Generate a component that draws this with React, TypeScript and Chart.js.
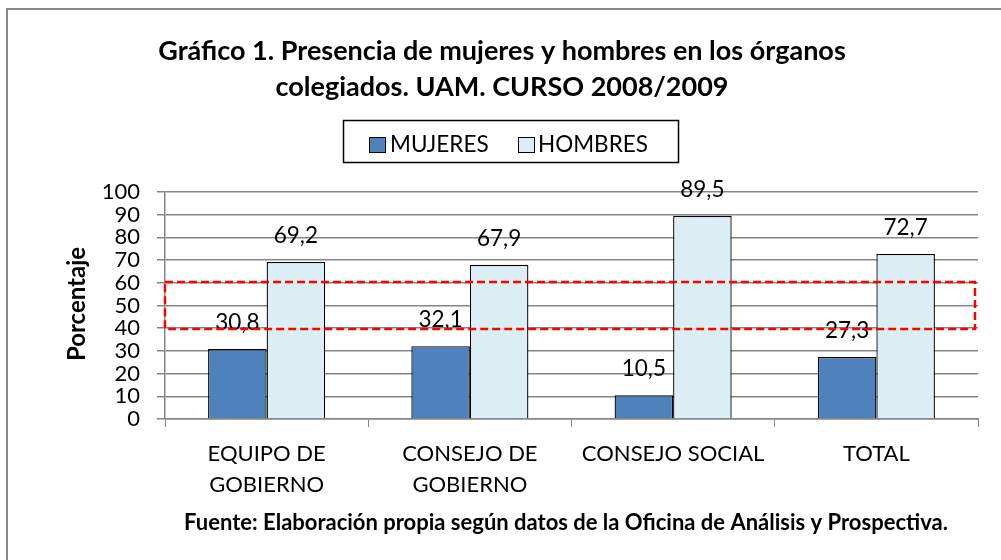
import React, { useEffect, useRef } from "react";
import { Chart, registerables } from "chart.js";

Chart.register(...registerables);

const TITLE_LINES = [
  "Gráfico 1. Presencia de mujeres y hombres en los órganos",
  "colegiados. UAM. CURSO 2008/2009",
];
const CATEGORIES = [["EQUIPO DE", "GOBIERNO"], ["CONSEJO DE", "GOBIERNO"], ["CONSEJO SOCIAL"], ["TOTAL"]];
const SERIES_NAMES = ["MUJERES", "HOMBRES"];
const MUJERES = [30.8, 32.1, 10.5, 27.3];
const HOMBRES = [69.2, 67.9, 89.5, 72.7];
const Y_MIN = 0;
const Y_MAX = 100;
const Y_STEP = 10;
const HIGHLIGHT_RANGE = [39.6, 60.4];
const Y_TITLE = "Porcentaje";
const SOURCE = "Fuente: Elaboración propia según datos de la Oficina de Análisis y Prospectiva.";

const COLORS = ["#4F81BD", "#DBEEF4"];
const FONT = "Lato";

const fmt = (v: number) => v.toFixed(1).replace(".", ",");

const decorPlugin = {
  id: "decor",
  afterDraw(chart: any) {
    const ctx = chart.ctx as CanvasRenderingContext2D;
    const area = chart.chartArea;
    const y = chart.scales.y;
    ctx.save();

    // outer frame
    ctx.strokeStyle = "#8A8A8A";
    ctx.lineWidth = 2;
    ctx.strokeRect(7, 9, 1200, 1000);

    // title
    ctx.fillStyle = "#000";
    ctx.textAlign = "center";
    ctx.textBaseline = "middle";
    ctx.font = `bold 27px ${FONT}`;
    ctx.fillText(TITLE_LINES[0], 502, 51);
    ctx.fillText(TITLE_LINES[1], 502, 87);

    // legend
    ctx.strokeStyle = "#000";
    ctx.lineWidth = 1.5;
    ctx.strokeRect(343.5, 120.5, 335, 42);
    ctx.font = `22.5px ${FONT}`;
    ctx.textAlign = "left";
    const items = [
      { sx: 369, tx: 390 },
      { sx: 518, tx: 538 },
    ];
    chart.data.datasets.forEach((ds: any, i: number) => {
      const it = items[i];
      ctx.fillStyle = ds.backgroundColor;
      ctx.fillRect(it.sx, 137, 16, 15);
      ctx.lineWidth = 1;
      ctx.strokeStyle = "#000";
      ctx.strokeRect(it.sx + 0.5, 137.5, 16, 15);
      ctx.fillStyle = "#000";
      ctx.fillText(ds.label, it.tx, 145);
    });

    // y title
    ctx.save();
    ctx.translate(77, 304);
    ctx.rotate(-Math.PI / 2);
    ctx.textAlign = "center";
    ctx.textBaseline = "middle";
    ctx.font = `bold 24px ${FONT}`;
    ctx.fillStyle = "#000";
    ctx.fillText(Y_TITLE, 0, 0);
    ctx.restore();

    // data labels
    ctx.font = `22.5px ${FONT}`;
    ctx.textAlign = "center";
    ctx.textBaseline = "middle";
    ctx.fillStyle = "#000";
    chart.data.datasets.forEach((ds: any, di: number) => {
      const meta = chart.getDatasetMeta(di);
      meta.data.forEach((bar: any, i: number) => {
        ctx.fillText(fmt(ds.data[i]), bar.x, bar.y - 26);
      });
    });

    // highlight box
    const top = y.getPixelForValue(HIGHLIGHT_RANGE[1]);
    const bottom = y.getPixelForValue(HIGHLIGHT_RANGE[0]);
    ctx.strokeStyle = "#FF0000";
    ctx.lineWidth = 2.5;
    ctx.setLineDash([8, 4]);
    ctx.strokeRect(area.left, top, area.right - 3 - area.left, bottom - top);
    ctx.setLineDash([]);

    // source
    ctx.font = `bold 22px ${FONT}`;
    ctx.fillStyle = "#000";
    ctx.textAlign = "center";
    ctx.fillText(SOURCE, 566, 523);

    ctx.restore();
  },
};

export default function App() {
  const ref = useRef<HTMLCanvasElement | null>(null);

  useEffect(() => {
    if (!ref.current) return;
    const chart = new Chart(ref.current, {
      type: "bar",
      data: {
        labels: CATEGORIES,
        datasets: [
          {
            label: SERIES_NAMES[0],
            data: MUJERES,
            backgroundColor: COLORS[0],
            borderColor: "#000",
            borderWidth: 1.3,
            categoryPercentage: 0.576,
            barPercentage: 1,
          },
          {
            label: SERIES_NAMES[1],
            data: HOMBRES,
            backgroundColor: COLORS[1],
            borderColor: "#000",
            borderWidth: 1.3,
            categoryPercentage: 0.576,
            barPercentage: 1,
          },
        ],
      },
      options: {
        responsive: false,
        animation: false,
        layout: { padding: { left: 0, top: 192, right: 23, bottom: 61 } },
        plugins: {
          legend: { display: false },
          title: { display: false },
          tooltip: { enabled: false },
        },
        scales: {
          x: {
            grid: {
              offset: true,
              drawOnChartArea: false,
              drawTicks: true,
              tickLength: 8,
              color: "#868686",
            },
            border: { color: "#868686", width: 1.5 },
            ticks: {
              color: "#000",
              font: { family: FONT, size: 22, lineHeight: 1.41 },
              padding: 11,
              maxRotation: 0,
              autoSkip: false,
            },
            afterFit: (s: any) => {
              s.height = 80;
            },
          },
          y: {
            min: Y_MIN,
            max: Y_MAX,
            ticks: {
              stepSize: Y_STEP,
              autoSkip: false,
              color: "#000",
              font: { family: FONT, size: 22 },
              padding: 17,
            },
            grid: { color: "#868686", lineWidth: 1.5, tickLength: 8 },
            border: { color: "#868686", width: 1.5 },
            afterFit: (s: any) => {
              s.width = 165;
            },
          },
        },
      },
      plugins: [decorPlugin],
    });
    (document as any).fonts?.load?.(`20px ${FONT}`).then(() => chart.update());
    return () => chart.destroy();
  }, []);

  return (
    <div style={{ position: "fixed", left: 0, top: 0, width: 1001, height: 560, background: "#fff" }}>
      <canvas ref={ref} width={1001} height={560} style={{ display: "block" }} />
    </div>
  );
}
